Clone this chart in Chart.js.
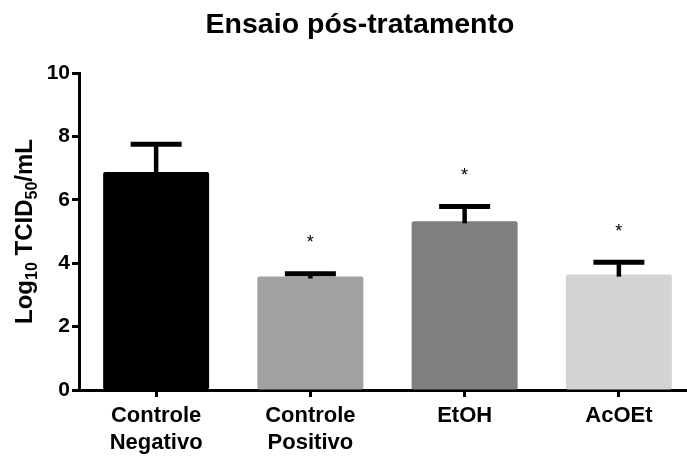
<!DOCTYPE html>
<html>
<head>
<meta charset="utf-8">
<script src="https://cdn.jsdelivr.net/npm/chart.js@4/dist/chart.umd.min.js"></script>
<style>
  html, body { margin: 0; padding: 0; background: #fff; overflow: hidden; }
  #wrap { width: 687px; height: 456px; overflow: hidden; }
  canvas { display: block; }
</style>
</head>
<body>
<div id="wrap"><canvas id="c" width="697" height="456"></canvas></div>
<script>
// Viral titre after post-treatment assay (mean + SEM, upper error only)
const categories = [['Controle', 'Negativo'], ['Controle', 'Positivo'], 'EtOH', 'AcOEt'];
const means = [6.88, 3.58, 5.32, 3.64];
const sem = [0.87, 0.09, 0.47, 0.39];
const significant = [false, true, true, true];

const barColors = ['#000000', '#a1a1a4', '#7f7f7f', '#d4d4d4'];
const FONT = "'Liberation Sans', Arial, Helvetica, sans-serif";

const titleText = 'Ensaio pós-tratamento';

// Title centred over the plot
const titlePlugin = {
  id: 'plotTitle',
  afterDraw(chart) {
    const ctx = chart.ctx;
    ctx.save();
    ctx.font = 'bold 28.5px ' + FONT;
    ctx.fillStyle = '#000';
    ctx.textAlign = 'center';
    ctx.textBaseline = 'alphabetic';
    ctx.fillText(titleText, 360, 33);
    ctx.restore();
  }
};

// Rotated y-axis title with subscripts: Log10 TCID50/mL
const yTitlePlugin = {
  id: 'yTitle',
  afterDraw(chart) {
    const ctx = chart.ctx;
    const big = 'bold 24px ' + FONT;
    const small = 'bold 16px ' + FONT;
    const parts = [
      { t: 'Log', f: big, dy: 0 },
      { t: '10', f: small, dy: 5 },
      { t: ' TCID', f: big, dy: 0 },
      { t: '50', f: small, dy: 5 },
      { t: '/mL', f: big, dy: 0 }
    ];
    ctx.save();
    let total = 0;
    parts.forEach(p => { ctx.font = p.f; p.w = ctx.measureText(p.t).width; total += p.w; });
    const a = chart.chartArea;
    ctx.translate(32, (a.top + a.bottom) / 2);
    ctx.rotate(-Math.PI / 2);
    ctx.fillStyle = '#000';
    ctx.textBaseline = 'alphabetic';
    ctx.textAlign = 'left';
    let x = -total / 2;
    parts.forEach(p => { ctx.font = p.f; ctx.fillText(p.t, x, p.dy); x += p.w; });
    ctx.restore();
  }
};

// Upper SEM bars and significance asterisks
const errorPlugin = {
  id: 'errorBars',
  afterDatasetsDraw(chart) {
    const ctx = chart.ctx;
    const meta = chart.getDatasetMeta(0);
    const y = chart.scales.y;
    ctx.save();
    ctx.strokeStyle = '#000';
    ctx.fillStyle = '#000';
    meta.data.forEach((bar, i) => {
      const top = y.getPixelForValue(means[i]);
      const cap = y.getPixelForValue(means[i] + sem[i]);
      ctx.lineWidth = 4.5;
      ctx.lineCap = 'butt';
      ctx.beginPath();
      ctx.moveTo(bar.x, top + 2);
      ctx.lineTo(bar.x, cap);
      ctx.stroke();
      ctx.lineWidth = 5;
      ctx.beginPath();
      ctx.moveTo(bar.x - 25.5, cap);
      ctx.lineTo(bar.x + 25.5, cap);
      ctx.stroke();
      if (significant[i]) {
        ctx.font = '18px ' + FONT;
        ctx.textAlign = 'center';
        ctx.textBaseline = 'alphabetic';
        ctx.fillText('*', bar.x, cap - 36 + 10.5);
      }
    });
    ctx.restore();
  }
};

new Chart(document.getElementById('c'), {
  type: 'bar',
  data: {
    labels: categories,
    datasets: [{
      data: means,
      backgroundColor: barColors,
      borderWidth: 0,
      borderRadius: 2,
      borderSkipped: false,
      categoryPercentage: 1,
      barPercentage: 0.687
    }]
  },
  options: {
    responsive: false,
    animation: false,
    devicePixelRatio: 1,
    layout: { padding: { top: 73, right: 1, left: 0, bottom: 0 } },
    plugins: { legend: { display: false }, tooltip: { enabled: false }, title: { display: false } },
    scales: {
      x: {
        afterFit(s) { s.height = 66; },
        grid: { offset: false, drawOnChartArea: false, drawTicks: true, tickLength: 7, tickWidth: 3, tickColor: '#000' },
        border: { display: true, color: '#000', width: 3 },
        ticks: {
          color: '#000', maxRotation: 0, autoSkip: false, padding: 6,
          font: { family: FONT, size: 22, weight: 'bold', lineHeight: 1.2 }
        }
      },
      y: {
        min: 0, max: 10,
        afterFit(s) { s.width = 79; },
        grid: { drawOnChartArea: false, drawTicks: true, tickLength: 7, tickWidth: 3, tickColor: '#000' },
        border: { display: true, color: '#000', width: 3 },
        ticks: {
          stepSize: 2, color: '#000', padding: 2,
          font: { family: FONT, size: 21, weight: 'bold' }
        }
      }
    }
  },
  plugins: [titlePlugin, yTitlePlugin, errorPlugin]
});
</script>
</body>
</html>
